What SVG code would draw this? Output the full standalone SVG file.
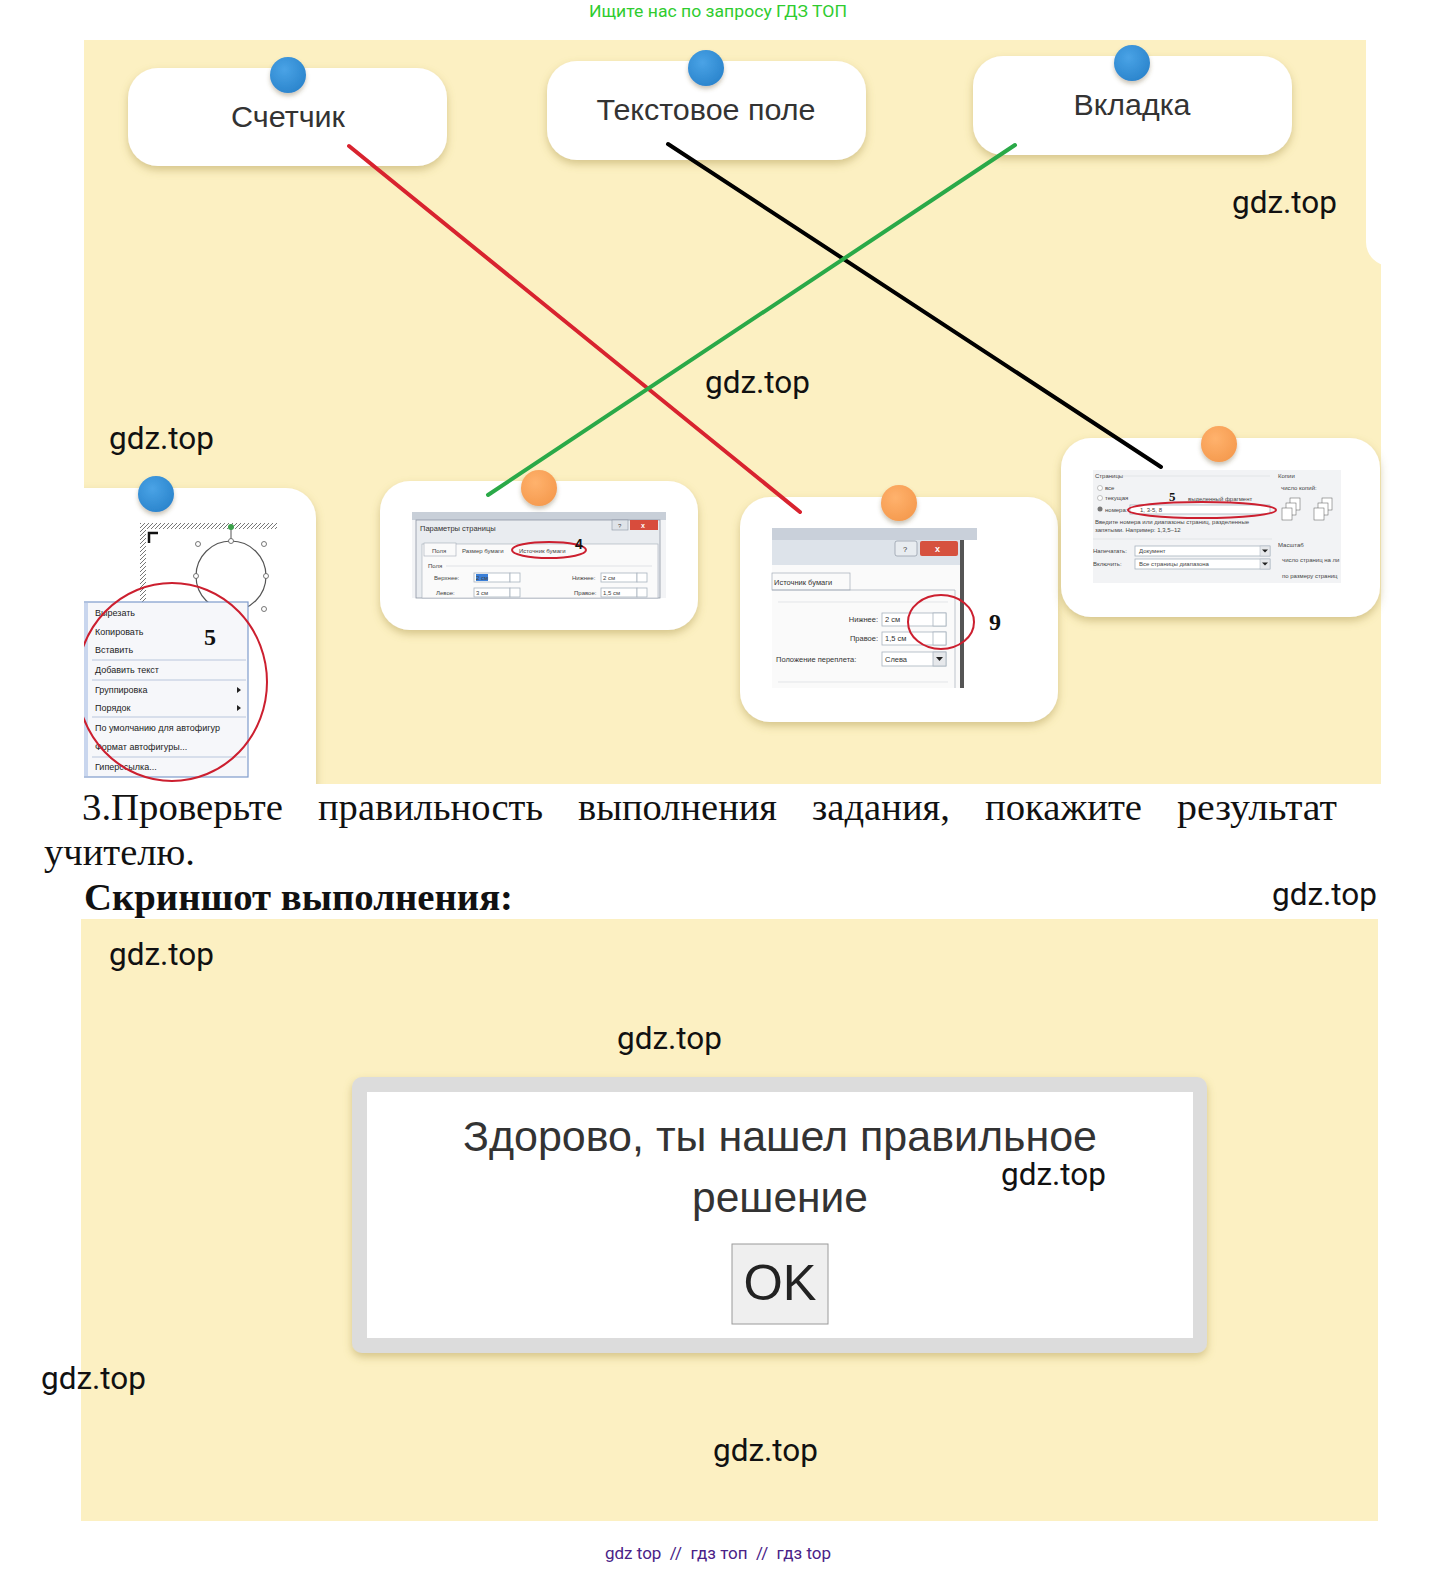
<svg xmlns="http://www.w3.org/2000/svg" width="1438" height="1569" viewBox="0 0 1438 1569">
<style>
.wm{font-family:Roboto,"Liberation Sans",sans-serif;font-size:31px;fill:#111}
.lbl{font-family:"Liberation Sans",Arial,sans-serif;font-size:30px;fill:#333;text-anchor:middle}
.card{fill:#fff}
.ser{font-family:"Liberation Serif","Times New Roman",serif;font-size:38px;fill:#111}
.mi{font-family:"Liberation Sans",Arial,sans-serif;font-size:9px;fill:#222}
.sm{font-family:"Liberation Sans",Arial,sans-serif;font-size:7.5px;fill:#333}
.xs{font-family:"Liberation Sans",Arial,sans-serif;font-size:6px;fill:#444}
.big5{font-family:"Liberation Serif",serif;font-weight:bold;font-size:24px;fill:#111}
.box{fill:#fff;stroke:#a9b3bf;stroke-width:0.8}
.sep{stroke:#b9c6dc;stroke-width:1}
.redov{fill:none;stroke:#cc1f2f;stroke-width:2}
.con{fill:none;stroke-width:4;stroke-linecap:round}
</style>
<defs>
<filter id="sh" x="-10%" y="-10%" width="120%" height="130%">
<feDropShadow dx="0" dy="4" stdDeviation="4" flood-color="#a58f45" flood-opacity="0.45"/>
</filter>
<filter id="psh" x="-50%" y="-50%" width="200%" height="200%">
<feDropShadow dx="0" dy="3" stdDeviation="2" flood-color="#6a5a30" flood-opacity="0.35"/>
</filter>
<radialGradient id="blue" cx="0.4" cy="0.35" r="0.7">
<stop offset="0" stop-color="#4aa3e6"/><stop offset="1" stop-color="#2a84cc"/>
</radialGradient>
<radialGradient id="orange" cx="0.4" cy="0.35" r="0.7">
<stop offset="0" stop-color="#ffb26d"/><stop offset="1" stop-color="#f59a4e"/>
</radialGradient>
<pattern id="hatch" width="4" height="4" patternUnits="userSpaceOnUse">
<rect width="4" height="4" fill="#fff"/>
<path d="M0,4 L4,0" stroke="#777" stroke-width="1"/>
</pattern>
<clipPath id="topclip"><rect x="84" y="40" width="1297" height="744"/></clipPath>
</defs>
<rect width="1438" height="1569" fill="#fff"/>
<text x="718" y="17" text-anchor="middle" font-family="Roboto,'Liberation Sans',sans-serif" font-size="17" fill="#2fcc2f" textLength="258" lengthAdjust="spacingAndGlyphs">Ищите нас по запросу ГДЗ ТОП</text>

<g id="top-panel" clip-path="url(#topclip)">
<rect x="84" y="40" width="1297" height="744" fill="#fcf0c2"/>
<rect x="1366" y="10" width="60" height="256" rx="24" fill="#fff"/>
</g>

<g id="node-schetchik">
<rect class="card" x="128" y="68" width="319" height="98" rx="30" filter="url(#sh)"/>
<circle cx="288" cy="75" r="18" fill="url(#blue)" filter="url(#psh)"/>
<text class="lbl" x="288" y="127" textLength="114" lengthAdjust="spacingAndGlyphs">Счетчик</text>
</g>
<g id="node-textfield">
<rect class="card" x="547" y="61" width="319" height="99" rx="30" filter="url(#sh)"/>
<circle cx="706" cy="68" r="18" fill="url(#blue)" filter="url(#psh)"/>
<text class="lbl" x="706" y="120" textLength="219" lengthAdjust="spacingAndGlyphs">Текстовое поле</text>
</g>
<g id="node-vkladka">
<rect class="card" x="973" y="56" width="319" height="99" rx="30" filter="url(#sh)"/>
<circle cx="1132" cy="63" r="18" fill="url(#blue)" filter="url(#psh)"/>
<text class="lbl" x="1132" y="115" textLength="117" lengthAdjust="spacingAndGlyphs">Вкладка</text>
</g>

<g id="node-menu" clip-path="url(#topclip)">
<rect class="card" x="50" y="488" width="266" height="330" rx="30" filter="url(#sh)"/>
<rect x="140" y="523" width="137" height="6" fill="url(#hatch)"/>
<rect x="140" y="523" width="6" height="80" fill="url(#hatch)"/>
<path d="M149,543 V533 H158" fill="none" stroke="#111" stroke-width="2.5"/>
<circle cx="231" cy="576" r="35" fill="none" stroke="#555" stroke-width="1.2"/>
<line x1="231" y1="529" x2="231" y2="541" stroke="#555"/>
<circle cx="231" cy="527" r="3" fill="#3aa04a"/>
<g fill="#fff" stroke="#555" stroke-width="0.8">
<circle cx="198" cy="544" r="2.5"/><circle cx="264" cy="544" r="2.5"/>
<circle cx="196" cy="576" r="2.5"/><circle cx="266" cy="576" r="2.5"/>
<circle cx="231" cy="541" r="2.5"/><circle cx="264" cy="609" r="2.5"/>
</g>
<rect x="80" y="602" width="168" height="175" fill="#f6f7fa" stroke="#7f9ccc" stroke-width="1.2"/>
<rect x="80" y="603" width="8" height="173" fill="#c9d6ee"/>
<text class="mi" x="95" y="616">Вырезать</text>
<text class="mi" x="95" y="635">Копировать</text>
<text class="mi" x="95" y="653">Вставить</text>
<line class="sep" x1="92" y1="660" x2="246" y2="660"/>
<text class="mi" x="95" y="673">Добавить текст</text>
<line class="sep" x1="92" y1="680" x2="246" y2="680"/>
<text class="mi" x="95" y="693">Группировка</text>
<text class="mi" x="95" y="711">Порядок</text>
<path d="M237,687 l4,3 l-4,3z M237,705 l4,3 l-4,3z" fill="#222"/>
<line class="sep" x1="92" y1="717" x2="246" y2="717"/>
<text class="mi" x="95" y="731">По умолчанию для автофигур</text>
<text class="mi" x="95" y="750">Формат автофигуры...</text>
<line class="sep" x1="92" y1="757" x2="246" y2="757"/>
<text class="mi" x="95" y="770">Гиперссылка...</text>
<text class="big5" x="204" y="645">5</text>
<ellipse class="redov" cx="172" cy="682" rx="95" ry="99"/>
<circle cx="156" cy="494" r="18" fill="url(#blue)" filter="url(#psh)"/>
</g>

<g id="node-params">
<rect class="card" x="380" y="481" width="318" height="149" rx="30" filter="url(#sh)"/>
<rect x="412" y="512" width="254" height="86" fill="#f3f4f6"/>
<rect x="412" y="512" width="254" height="8" fill="#c8cfd8"/>
<rect x="416" y="520" width="244" height="78" fill="#e9ecf0" stroke="#8d96a3" stroke-width="0.8"/>
<text class="sm" x="420" y="531">Параметры страницы</text>
<rect x="612" y="520" width="16" height="10" fill="#dfe3e8" stroke="#8d96a3" stroke-width="0.6"/>
<text class="xs" x="618" y="528">?</text>
<rect x="630" y="520" width="28" height="10" fill="#d84c3c"/>
<text x="641" y="528" font-family="Liberation Sans,sans-serif" font-size="7" fill="#fff" font-weight="bold">x</text>
<rect x="422" y="544" width="236" height="54" fill="#fafafa" stroke="#a4acb7" stroke-width="0.6"/>
<rect x="424" y="543" width="32" height="13" fill="#fafafa" stroke="#a4acb7" stroke-width="0.6"/>
<text class="xs" x="432" y="553">Поля</text>
<text class="xs" x="462" y="553">Размер бумаги</text>
<text class="xs" x="519" y="553">Источник бумаги</text>
<ellipse class="redov" cx="549" cy="550" rx="37" ry="8"/>
<text x="575" y="549" font-family="Liberation Sans,sans-serif" font-weight="bold" font-size="14" fill="#111">4</text>
<text class="xs" x="428" y="568">Поля</text>
<line x1="446" y1="566" x2="652" y2="566" stroke="#d0d4da" stroke-width="0.6"/>
<text class="xs" x="434" y="580">Верхнее:</text>
<rect class="box" x="474" y="573" width="36" height="9"/>
<rect x="476" y="574" width="12" height="7" fill="#3a7fd8"/>
<text class="xs" x="476" y="580" fill="#fff">2 см</text>
<rect class="box" x="510" y="573" width="10" height="9"/>
<text class="xs" x="436" y="595">Левое:</text>
<rect class="box" x="474" y="588" width="36" height="9"/>
<text class="xs" x="476" y="595">3 см</text>
<rect class="box" x="510" y="588" width="10" height="9"/>
<text class="xs" x="572" y="580">Нижнее:</text>
<rect class="box" x="601" y="573" width="36" height="9"/>
<text class="xs" x="603" y="580">2 см</text>
<rect class="box" x="637" y="573" width="10" height="9"/>
<text class="xs" x="574" y="595">Правое:</text>
<rect class="box" x="601" y="588" width="36" height="9"/>
<text class="xs" x="603" y="595">1,5 см</text>
<rect class="box" x="637" y="588" width="10" height="9"/>
<circle cx="539" cy="488" r="18" fill="url(#orange)" filter="url(#psh)"/>
</g>

<g id="node-source">
<rect class="card" x="740" y="497" width="318" height="225" rx="30" filter="url(#sh)"/>
<rect x="772" y="528" width="205" height="160" fill="#f4f5f7"/>
<rect x="772" y="528" width="205" height="12" fill="#c9d0da"/>
<rect x="772" y="540" width="188" height="25" fill="#dde3ea"/>
<rect x="895" y="541" width="22" height="15" rx="2" fill="#e8ecf0" stroke="#8d96a3" stroke-width="0.7"/>
<text class="sm" x="903" y="552">?</text>
<rect x="920" y="541" width="38" height="15" rx="2" fill="#d6523f"/>
<text x="935" y="552" font-family="Liberation Sans,sans-serif" font-size="9" fill="#fff" font-weight="bold">x</text>
<rect x="772" y="565" width="188" height="123" fill="#fafafa"/>
<rect x="772" y="573" width="78" height="17" fill="#fafafa" stroke="#a4acb7" stroke-width="0.7"/>
<text class="sm" x="774" y="585">Источник бумаги</text>
<line x1="772" y1="590" x2="955" y2="590" stroke="#a4acb7" stroke-width="0.7"/>
<line x1="955" y1="590" x2="955" y2="688" stroke="#a4acb7" stroke-width="0.7"/>
<line x1="778" y1="602" x2="948" y2="602" stroke="#d8dbe0" stroke-width="0.7"/>
<text class="sm" x="878" y="622" text-anchor="end">Нижнее:</text>
<rect class="box" x="882" y="613" width="64" height="13"/>
<text class="sm" x="885" y="622">2 см</text>
<rect class="box" x="933" y="613" width="13" height="13"/>
<text class="sm" x="878" y="641" text-anchor="end">Правое:</text>
<rect class="box" x="882" y="632" width="64" height="13"/>
<text class="sm" x="885" y="641">1,5 см</text>
<rect class="box" x="933" y="632" width="13" height="13"/>
<text class="sm" x="776" y="662">Положение переплета:</text>
<rect class="box" x="882" y="652" width="64" height="14"/>
<text class="sm" x="885" y="662">Слева</text>
<rect x="933" y="652" width="13" height="14" fill="#e6e8eb" stroke="#a9b3bf" stroke-width="0.8"/>
<path d="M936,657 h7 l-3.5,4z" fill="#222"/>
<line x1="778" y1="682" x2="948" y2="682" stroke="#d8dbe0" stroke-width="0.7"/>
<rect x="960" y="540" width="17" height="148" fill="#ffffff"/>
<rect x="960" y="540" width="4" height="148" fill="#555"/>
<ellipse class="redov" cx="941" cy="622" rx="33" ry="27"/>
<text class="big5" x="989" y="630">9</text>
<circle cx="899" cy="503" r="18" fill="url(#orange)" filter="url(#psh)"/>
</g>

<g id="node-print">
<rect class="card" x="1061" y="438" width="319" height="179" rx="30" filter="url(#sh)"/>
<rect x="1093" y="470" width="248" height="113" fill="#f2f3f5"/>
<text class="xs" x="1095" y="478">Страницы</text>
<line x1="1120" y1="476" x2="1270" y2="476" stroke="#d0d4da" stroke-width="0.5"/>
<circle cx="1100" cy="488" r="2.5" fill="#fff" stroke="#888" stroke-width="0.5"/>
<text class="xs" x="1105" y="490">все</text>
<circle cx="1100" cy="498" r="2.5" fill="#fff" stroke="#888" stroke-width="0.5"/>
<text class="xs" x="1105" y="500">текущая</text>
<circle cx="1100" cy="509" r="2.5" fill="#777"/>
<text class="xs" x="1105" y="512">номера:</text>
<text x="1169" y="501" font-family="Liberation Serif,serif" font-weight="bold" font-size="13" fill="#111">5</text>
<text class="xs" x="1188" y="501" fill="#aaa">выделенный фрагмент</text>
<rect class="box" x="1130" y="505" width="140" height="9"/>
<text class="xs" x="1140" y="512">1, 3-5, 8</text>
<ellipse class="redov" cx="1202" cy="510" rx="74" ry="8"/>
<text class="xs" x="1095" y="524">Введите номера или диапазоны страниц, разделенные</text>
<text class="xs" x="1095" y="532">запятыми. Например: 1,3,5–12</text>
<line x1="1093" y1="539" x2="1272" y2="539" stroke="#d0d4da" stroke-width="0.5"/>
<text class="xs" x="1278" y="478">Копии</text>
<text class="xs" x="1281" y="490">число копий:</text>
<g fill="#fff" stroke="#555" stroke-width="0.5">
<rect x="1290" y="498" width="10" height="12"/><rect x="1286" y="503" width="10" height="12"/><rect x="1282" y="508" width="10" height="12"/>
<rect x="1322" y="498" width="10" height="12"/><rect x="1318" y="503" width="10" height="12"/><rect x="1314" y="508" width="10" height="12"/>
</g>
<text class="xs" x="1278" y="547">Масштаб</text>
<text class="xs" x="1093" y="553">Напечатать:</text>
<rect class="box" x="1135" y="546" width="135" height="10"/>
<text class="xs" x="1139" y="553">Документ</text>
<rect x="1260" y="546" width="10" height="10" fill="#e6e8eb" stroke="#a9b3bf" stroke-width="0.5"/>
<path d="M1262,549.5 h6 l-3,3z" fill="#222"/>
<text class="xs" x="1093" y="566">Включить:</text>
<rect class="box" x="1135" y="559" width="135" height="10"/>
<text class="xs" x="1139" y="566">Все страницы диапазона</text>
<rect x="1260" y="559" width="10" height="10" fill="#e6e8eb" stroke="#a9b3bf" stroke-width="0.5"/>
<path d="M1262,562.5 h6 l-3,3z" fill="#222"/>
<text class="xs" x="1282" y="562">число страниц на ли</text>
<text class="xs" x="1282" y="578">по размеру страниц</text>
<circle cx="1219" cy="444" r="18" fill="url(#orange)" filter="url(#psh)"/>
</g>

<g id="connectors">
<line class="con" x1="349" y1="146" x2="800" y2="512" stroke="#d8232f"/>
<line class="con" x1="668" y1="144" x2="1161" y2="467" stroke="#000"/>
<line class="con" x1="1015" y1="145" x2="488" y2="495" stroke="#2aa948"/>
</g>

<g id="watermarks-top">
<text class="wm" x="1232" y="213" textLength="105" lengthAdjust="spacingAndGlyphs">gdz.top</text>
<text class="wm" x="705" y="393" textLength="105" lengthAdjust="spacingAndGlyphs">gdz.top</text>
<text class="wm" x="109" y="449" textLength="105" lengthAdjust="spacingAndGlyphs">gdz.top</text>
</g>

<g id="task-text">
<text class="ser" x="82" y="820" textLength="201" lengthAdjust="spacingAndGlyphs">3.Проверьте</text>
<text class="ser" x="318" y="820" textLength="225" lengthAdjust="spacingAndGlyphs">правильность</text>
<text class="ser" x="578" y="820" textLength="199" lengthAdjust="spacingAndGlyphs">выполнения</text>
<text class="ser" x="812" y="820" textLength="138" lengthAdjust="spacingAndGlyphs">задания,</text>
<text class="ser" x="985" y="820" textLength="157" lengthAdjust="spacingAndGlyphs">покажите</text>
<text class="ser" x="1177" y="820" textLength="160" lengthAdjust="spacingAndGlyphs">результат</text>
<text class="ser" x="44" y="865" textLength="151" lengthAdjust="spacingAndGlyphs">учителю.</text>
<text class="ser" x="84" y="910" font-weight="bold" textLength="429" lengthAdjust="spacingAndGlyphs">Скриншот выполнения:</text>
<text class="wm" x="1272" y="905" textLength="105" lengthAdjust="spacingAndGlyphs">gdz.top</text>
</g>

<g id="bottom-panel">
<rect x="81" y="919" width="1297" height="602" fill="#fcf0c2"/>
</g>
<g id="dialog">
<rect x="352" y="1077" width="855" height="276" rx="10" fill="#dcdcdc" filter="url(#sh)"/>
<rect x="367" y="1092" width="826" height="246" fill="#fff"/>
<text x="780" y="1151" text-anchor="middle" font-family="Liberation Sans,Arial,sans-serif" font-size="43" fill="#333" textLength="634" lengthAdjust="spacingAndGlyphs">Здорово, ты нашел правильное</text>
<text x="780" y="1212" text-anchor="middle" font-family="Liberation Sans,Arial,sans-serif" font-size="43" fill="#333" textLength="176" lengthAdjust="spacingAndGlyphs">решение</text>
<rect x="732" y="1244" width="96" height="80" fill="#efefef" stroke="#9a9a9a" stroke-width="1"/>
<text x="780" y="1300" text-anchor="middle" font-family="Liberation Sans,Arial,sans-serif" font-size="50" fill="#222" textLength="73" lengthAdjust="spacingAndGlyphs">OK</text>
</g>
<g id="watermarks-bottom">
<text class="wm" x="109" y="965" textLength="105" lengthAdjust="spacingAndGlyphs">gdz.top</text>
<text class="wm" x="617" y="1049" textLength="105" lengthAdjust="spacingAndGlyphs">gdz.top</text>
<text class="wm" x="1001" y="1185" textLength="105" lengthAdjust="spacingAndGlyphs">gdz.top</text>
<text class="wm" x="41" y="1389" textLength="105" lengthAdjust="spacingAndGlyphs">gdz.top</text>
<text class="wm" x="713" y="1461" textLength="105" lengthAdjust="spacingAndGlyphs">gdz.top</text>
</g>
<text x="718" y="1559" text-anchor="middle" font-family="Roboto,'Liberation Sans',sans-serif" font-size="17" fill="#4a2287" xml:space="preserve">gdz top  //  гдз топ  //  гдз top</text>
</svg>
